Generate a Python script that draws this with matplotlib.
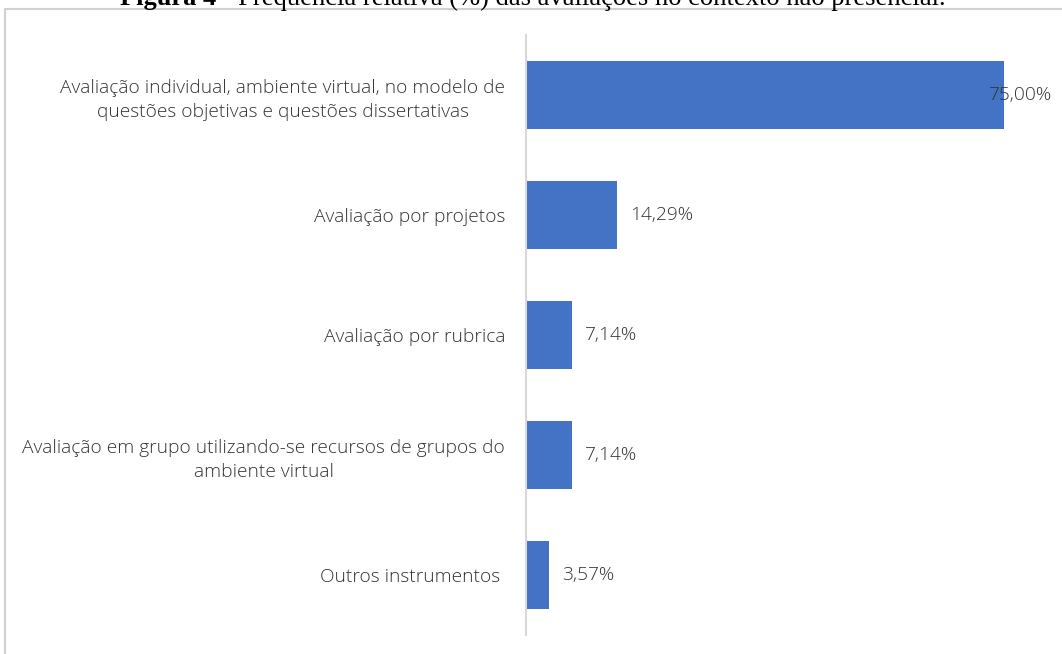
import matplotlib
matplotlib.use("Agg")
import matplotlib.pyplot as plt
from matplotlib.patches import Rectangle

categories = [
    "Avaliação individual, ambiente virtual, no modelo de\nquestões objetivas e questões dissertativas",
    "Avaliação por projetos",
    "Avaliação por rubrica",
    "Avaliação em grupo utilizando-se recursos de grupos do\nambiente virtual",
    "Outros instrumentos ",
]
values = [75.00, 14.29, 7.14, 7.14, 3.57]
value_labels = ["75,00%", "14,29%", "7,14%", "7,14%", "3,57%"]
title_bold = "Figura 4"
title_rest = " - Frequência relativa (%) das avaliações no contexto não presencial."

W, H = 1062, 654
fig = plt.figure(figsize=(W / 100, H / 100), dpi=100)

# outer chart frame
fig.patches.append(Rectangle((5 / W, -0.1), 1.2, 1 - 9 / H + 0.1, transform=fig.transFigure,
                             fill=False, edgecolor="#d0d0d0", linewidth=1.5))

# cut-off caption (bold "Figura 4" followed by regular text)
t1 = fig.text(120 / W, 1 - 5 / H, title_bold, ha="left", va="baseline",
              fontfamily="Liberation Serif", fontweight="bold", fontsize=19, color="black")
fig.canvas.draw()
bb = t1.get_window_extent()
fig.text(bb.x1 / W, 1 - 5 / H, title_rest, ha="left", va="baseline",
         fontfamily="Liberation Serif", fontsize=19.2, color="black")

ax = fig.add_axes([526 / W, 19 / H, 510 / W, 600 / H])
ypos = list(range(len(categories)))
ax.barh(ypos, values, height=0.57, color="#4472C4")
ax.set_ylim(4.5, -0.5)
ax.set_xlim(0, 80)
ax.set_yticks(ypos)
ax.set_yticklabels(categories, fontfamily="Open Sans", fontweight="light", fontsize=13.8,
                   color="#333333", multialignment="center", linespacing=1.45)
ax.tick_params(axis="y", length=0, pad=15)
ax.tick_params(axis="x", bottom=False, labelbottom=False)
for s in ["top", "right", "bottom"]:
    ax.spines[s].set_visible(False)
ax.spines["left"].set_color("#d9d9d9")
ax.spines["left"].set_linewidth(1.5)

for i, (v, lab) in enumerate(zip(values, value_labels)):
    off = -15 if v > 70 else 13
    ax.annotate(lab, (v, i), xytext=(off, 0), textcoords="offset pixels",
                ha="left", va="center", fontfamily="Open Sans", fontweight="light",
                fontsize=13.8, color="#333333", annotation_clip=False)

fig.savefig("out.png", dpi=100)
